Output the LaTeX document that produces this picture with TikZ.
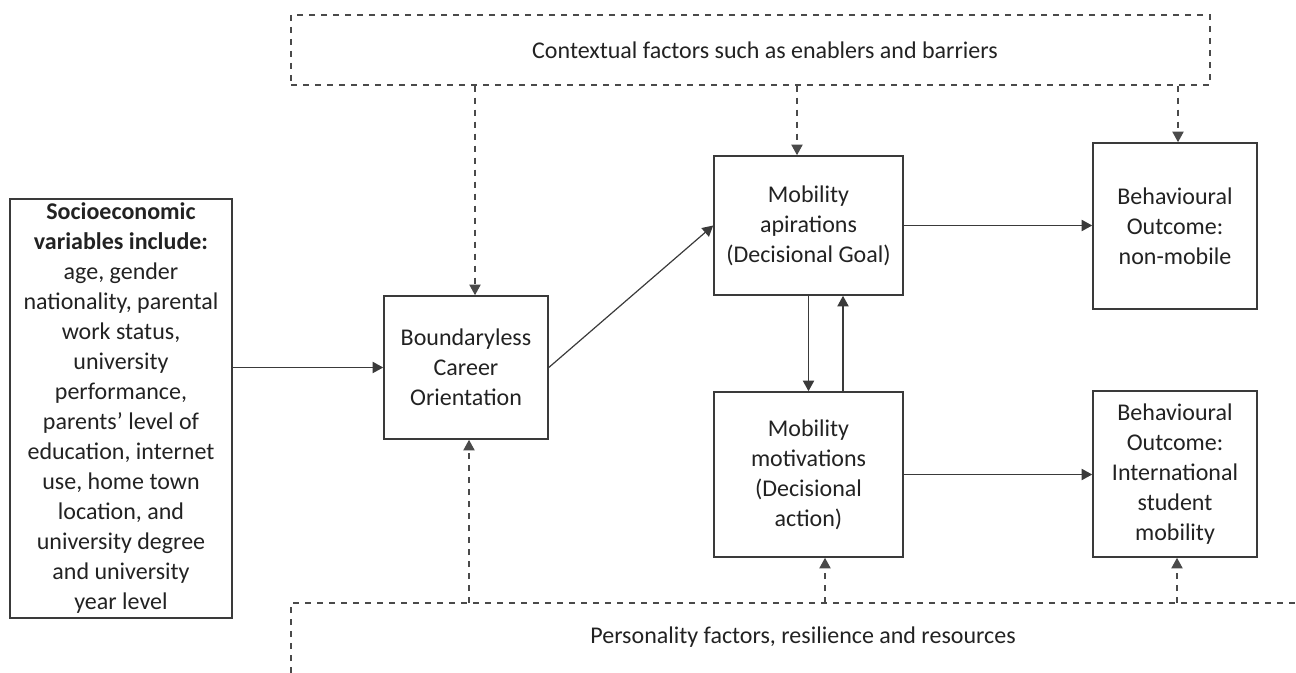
\documentclass[tikz,border=0pt]{standalone}
\usepackage{fontspec}
\setmainfont{Carlito}
\usetikzlibrary{arrows.meta,calc}
\newdimen\px
\px=0.75pt
\definecolor{ink}{HTML}{222222}
\definecolor{edge}{HTML}{3A3A3A}
\definecolor{dashc}{HTML}{4A4A4A}
\tikzset{
  stepbox/.style={draw=edge, line width=1.2pt, inner sep=0pt, align=center, text=ink,
    font=\fontsize{18}{22.5}\selectfont},
  txt/.style={inner sep=0pt, align=center, text=ink, font=\fontsize{18}{22.5}\selectfont},
  arr/.style={draw=edge, line width=0.9pt, -{Triangle[length=8pt,width=8.5pt]}},
  dashline/.style={draw=dashc, line width=0.9pt, dash pattern=on 4.5pt off 4.5pt},
  darr/.style={dashline, -{Triangle[length=8pt,width=8.5pt]}},
}
\begin{document}
\begin{tikzpicture}[x=0.75pt,y=-0.75pt]
\useasboundingbox (0,0) rectangle (1296,673);

% main boxes
\node[stepbox, minimum width=222\px, minimum height=419\px] (soc) at (121,408.5)
  {\textbf{Socioeconomic}\\ \textbf{variables include:}\\ age, gender\\ nationality, parental\\ work status,\\ university\\ performance,\\ parents’ level of\\ education, internet\\ use, home town\\ location, and\\ university degree\\ and university\\ year level};
\node[stepbox, minimum width=164\px, minimum height=143\px] (bco) at (466,367.5)
  {Boundaryless\\ Career\\ Orientation};
\node[stepbox, minimum width=189\px, minimum height=139\px] (asp) at (808.5,225.5)
  {Mobility\\ apirations\\ (Decisional Goal)};
\node[stepbox, minimum width=189\px, minimum height=165\px] (mot) at (808.5,474.5)
  {Mobility\\ motivations\\ (Decisional\\ action)};
\node[stepbox, minimum width=164\px, minimum height=166\px] (nm) at (1175,226)
  {Behavioural\\ Outcome:\\ non-mobile};
\node[stepbox, minimum width=164\px, minimum height=166\px] (ism) at (1175,474)
  {Behavioural\\ Outcome:\\ International\\ student\\ mobility};

% contextual factors dashed box
\node[dashline, inner sep=0pt, minimum width=919\px, minimum height=70\px] (ctx) at (750.5,50) {};
\node[txt] (ctxt) at (765,50) {Contextual factors such as enablers and barriers};

% personality factors open dashed frame
\coordinate (pl) at (291,603);
\coordinate (pr) at (1296,603);
\coordinate (pb) at (291,673);
\draw[dashline] (pb) -- (pl) -- (pr);
\node[txt] (pers) at (803,637) {Personality factors, resilience and resources};

% solid connectors
\draw[arr] (soc.east |- bco.west) -- (bco.west);
\draw[arr] (bco.east) -- (asp.west);
\draw[arr] (asp.east) -- (asp.east -| nm.west);
\draw[arr] (asp.south) -- (asp.south |- mot.north);
\coordinate (up) at ($(mot.north)+(34.5,0)$);
\draw[arr] (up) -- (up |- asp.south);
\draw[arr] (mot.east) -- (mot.east -| ism.west);

% dashed connectors from contextual factors
\coordinate (t1) at ([xshift=9\px]bco.north);
\coordinate (t2) at ([xshift=-11.5\px]asp.north);
\coordinate (t3) at ([xshift=3\px]nm.north);
\draw[darr] (t1 |- ctx.south) -- (t1);
\draw[darr] (t2 |- ctx.south) -- (t2);
\draw[darr] (t3 |- ctx.south) -- (t3);

% dashed connectors from personality factors
\coordinate (b1) at ([xshift=3\px]bco.south);
\coordinate (b2) at ([xshift=16.5\px]mot.south);
\coordinate (b3) at ([xshift=2\px]ism.south);
\draw[darr] (b1 |- pl) -- (b1);
\draw[darr] (b2 |- pl) -- (b2);
\draw[darr] (b3 |- pl) -- (b3);
\end{tikzpicture}
\end{document}
